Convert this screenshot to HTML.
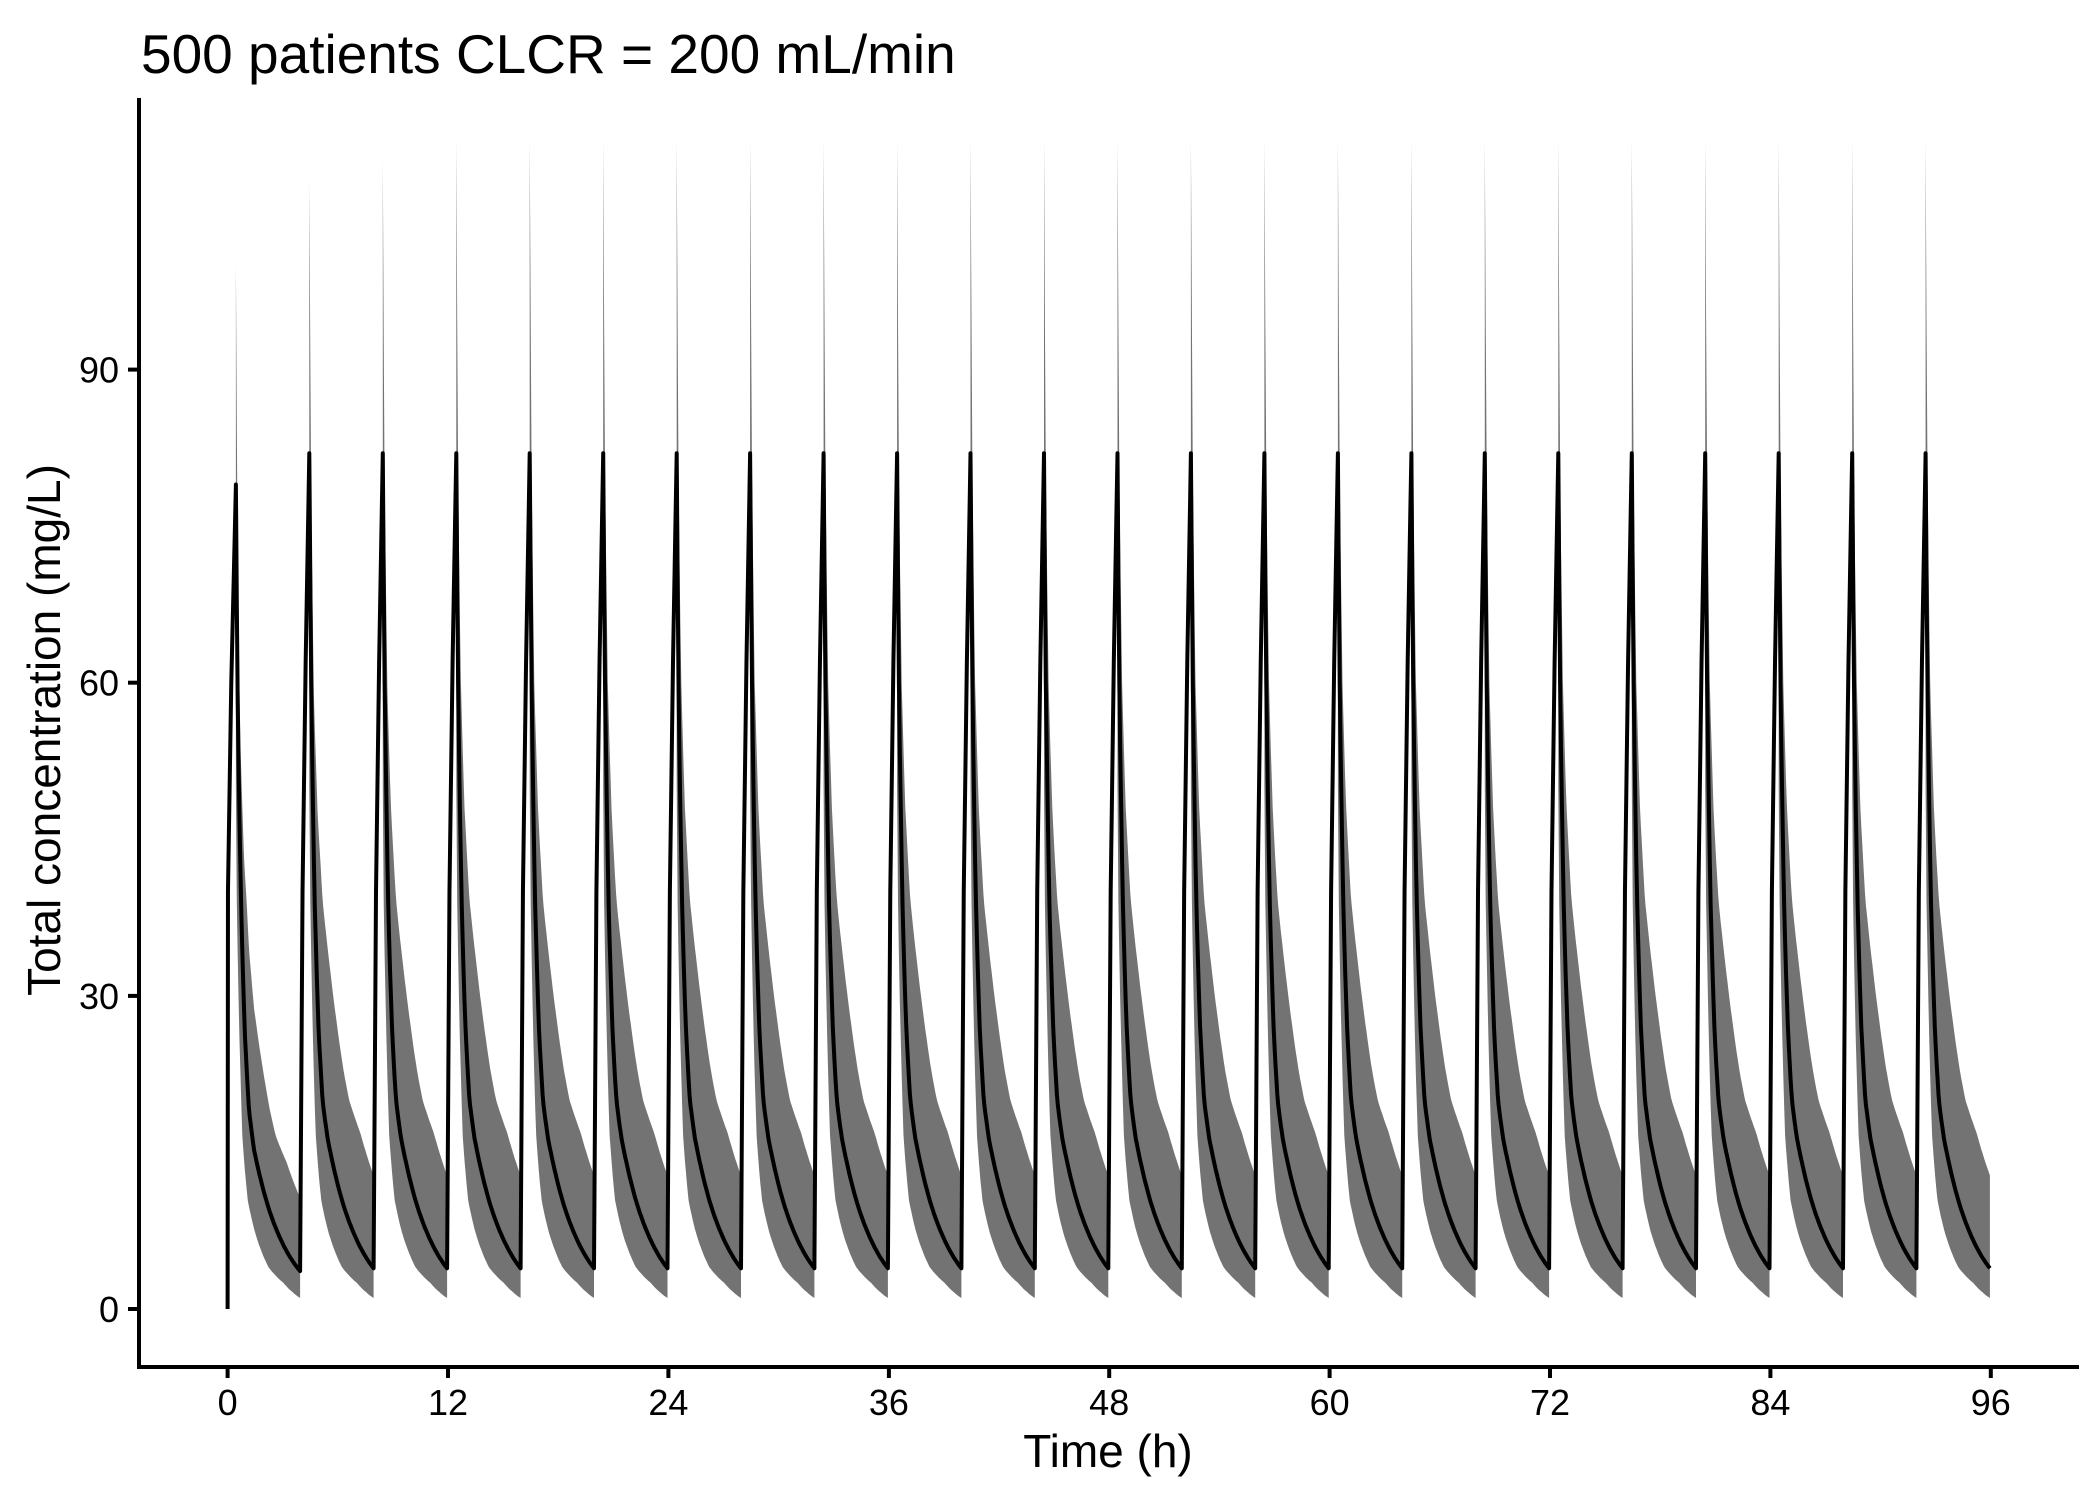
<!DOCTYPE html>
<html><head><meta charset="utf-8"><style>
html,body{margin:0;padding:0;background:#fff;}
svg{display:block;font-family:"Liberation Sans",sans-serif;}
</style></head><body>
<svg id="s" width="2100" height="1500" xmlns="http://www.w3.org/2000/svg">
<rect width="2100" height="1500" fill="#fff"/>
<g id="band"></g>
<g id="med"></g>
<line x1="139" y1="98" x2="139" y2="1369" stroke="#000" stroke-width="4"/>
<line x1="137" y1="1367" x2="2079" y2="1367" stroke="#000" stroke-width="4"/>
<g id="ticks" font-size="36" fill="#000">
<line x1="227.6" y1="1367" x2="227.6" y2="1378" stroke="#000" stroke-width="4"/><text x="227.6" y="1415" text-anchor="middle">0</text>
<line x1="448" y1="1367" x2="448" y2="1378" stroke="#000" stroke-width="4"/><text x="448" y="1415" text-anchor="middle">12</text>
<line x1="668.4" y1="1367" x2="668.4" y2="1378" stroke="#000" stroke-width="4"/><text x="668.4" y="1415" text-anchor="middle">24</text>
<line x1="888.9" y1="1367" x2="888.9" y2="1378" stroke="#000" stroke-width="4"/><text x="888.9" y="1415" text-anchor="middle">36</text>
<line x1="1109.2" y1="1367" x2="1109.2" y2="1378" stroke="#000" stroke-width="4"/><text x="1109.2" y="1415" text-anchor="middle">48</text>
<line x1="1329.6" y1="1367" x2="1329.6" y2="1378" stroke="#000" stroke-width="4"/><text x="1329.6" y="1415" text-anchor="middle">60</text>
<line x1="1550" y1="1367" x2="1550" y2="1378" stroke="#000" stroke-width="4"/><text x="1550" y="1415" text-anchor="middle">72</text>
<line x1="1770.4" y1="1367" x2="1770.4" y2="1378" stroke="#000" stroke-width="4"/><text x="1770.4" y="1415" text-anchor="middle">84</text>
<line x1="1990.8" y1="1367" x2="1990.8" y2="1378" stroke="#000" stroke-width="4"/><text x="1990.8" y="1415" text-anchor="middle">96</text>
<line x1="128" y1="1309" x2="139" y2="1309" stroke="#000" stroke-width="4"/><text x="119" y="1322" text-anchor="end">0</text>
<line x1="128" y1="995.9" x2="139" y2="995.9" stroke="#000" stroke-width="4"/><text x="119" y="1008.9" text-anchor="end">30</text>
<line x1="128" y1="682.7" x2="139" y2="682.7" stroke="#000" stroke-width="4"/><text x="119" y="695.7" text-anchor="end">60</text>
<line x1="128" y1="369.6" x2="139" y2="369.6" stroke="#000" stroke-width="4"/><text x="119" y="382.6" text-anchor="end">90</text>
</g>
<text x="141" y="73" font-size="55" fill="#000">500 patients CLCR = 200 mL/min</text>
<text x="1108" y="1467" font-size="46" text-anchor="middle" fill="#000">Time (h)</text>
<text transform="translate(60,730) rotate(-90)" font-size="46" text-anchor="middle" fill="#000">Total concentration (mg/L)</text>
</svg>
<script>
(function(){
var NS="http://www.w3.org/2000/svg";
function X(t){return 227.6+t*18.367;}
function Y(c){return 1309-c*10.437;}
function interp(pts,x){
  for(var i=0;i<pts.length-1;i++){
    var a=pts[i],b=pts[i+1];
    if(x<=b[0]){var f=(x-a[0])/(b[0]-a[0]);return Math.exp(Math.log(a[1])*(1-f)+Math.log(b[1])*f);}
  }
  return pts[pts.length-1][1];
}
var med=[[0,82],[0.1,60],[0.29,39.2],[0.5,27],[0.72,20],[1.0,16.3],[1.32,13.6],[1.85,10],[2.41,7.3],[3.0,5.2],[3.5,3.9]];
var up=[[0,112],[0.1,80],[0.25,60],[0.45,48],[0.72,39.2],[1.1,33],[1.5,27.3],[1.85,23],[2.17,20],[2.77,16.9],[3.5,12.8]];
var lo=[[0,50],[0.05,39],[0.29,20],[0.34,16.9],[0.65,10.4],[1.05,7.3],[1.4,5.5],[1.78,4.0],[2.59,2.5],[3.1,1.6],[3.5,1.05]];
var upPeaks=[100,108,110];
var bandG=document.getElementById("band");
var medp="M"+X(0)+","+Y(0)+" L"+X(0.02)+","+Y(40)+" L"+X(0.2)+","+Y(60)+" L"+X(0.4)+","+Y(75);
for(var d=0;d<24;d++){
  var t0=d*4+0.45;
  var up0=d<3?upPeaks[d]:112, m0=d==0?79:82;
  var top=[],bot=[];
  if(d>0){medp+=" L"+X(d*4+0.08)+","+Y(40)+" L"+X(d*4+0.25)+","+Y(62)+" L"+X(d*4+0.4)+","+Y(77);}
  for(var k=0;k<=70;k++){
    var tau=k*0.05;
    var uf=interp(up,tau);
    if(tau<0.6){uf=uf*(1-(1-up0/112)*(1-tau/0.6));}
    if(d==0) uf*= (tau>1?0.83:1-0.17*tau);
    top.push(X(t0+tau).toFixed(1)+","+Y(uf).toFixed(1));
    bot.push(X(t0+tau).toFixed(1)+","+Y(interp(lo,tau)).toFixed(1));
    var mv=interp(med,tau); if(tau<0.3)mv=mv*(1-(1-m0/82)*(1-tau/0.3));
    if(d==0) mv*= (tau>1?0.93:1-0.07*tau);
    medp+=" L"+X(t0+tau).toFixed(1)+","+Y(mv).toFixed(1);
  }
  bot.reverse();
  var p=document.createElementNS(NS,"polygon");
  p.setAttribute("points",top.join(" ")+" "+bot.join(" "));
  p.setAttribute("fill","#737373");
  bandG.appendChild(p);
}
var mp=document.createElementNS(NS,"path");
mp.setAttribute("d",medp);
mp.setAttribute("fill","none");
mp.setAttribute("stroke","#000");
mp.setAttribute("stroke-width","4");
mp.setAttribute("stroke-linejoin","round");
document.getElementById("med").appendChild(mp);
})();
</script>
</body></html>
